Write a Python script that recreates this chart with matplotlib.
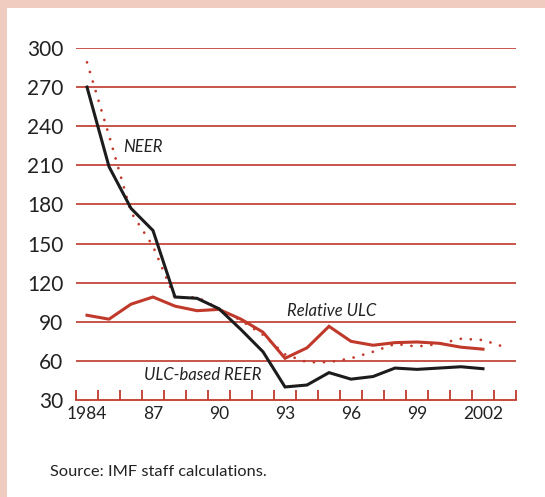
import matplotlib
matplotlib.use("Agg")
import matplotlib.pyplot as plt
from matplotlib.patches import Rectangle

years = list(range(1984, 2003))
years_neer = list(range(1984, 2004))
reer = [270, 209, 177, 160, 109, 108, 100, 84, 67, 40, 41.5, 51, 46, 48, 54.5, 53.5, 54.5, 55.5, 54]
rel_ulc = [95, 92, 103.5, 109, 102, 98.5, 99.5, 92, 82, 62, 70, 86.5, 75, 72, 74, 74.5, 73.5, 70.5, 69]
neer = [289, 233, 174, 148, 108, 109, 100, 91, 80, 65, 59, 59, 62, 67, 73, 71, 73, 77, 76, 70.5]
yticks = [30, 60, 90, 120, 150, 180, 210, 240, 270, 300]
xlabels = {1984: "1984", 1987: "87", 1990: "90", 1993: "93", 1996: "96", 1999: "99", 2002: "2002"}

RED = "#c0392b"
GRID = "#c4463c"
BLACK = "#1c1c1c"
FONT = ["Lato", "DejaVu Sans"]
plt.rcParams["font.family"] = FONT

fig = plt.figure(figsize=(5.45, 4.97), dpi=100)
fig.patch.set_facecolor("#f0cbbf")
fig.patches.append(Rectangle((7/545, 0), 1 - 7/545, 1 - 8/497, transform=fig.transFigure,
                             facecolor="white", edgecolor="none", zorder=-5))

ax = fig.add_axes([76/545, 97/497, 440/545, 352/497])
ax.set_zorder(2)
ax.set_facecolor("none")
ax.set_xlim(1983.5, 2003.5)
ax.set_ylim(30, 300)

for v in yticks[1:]:
    ax.axhline(v, color=GRID, lw=1.3, zorder=1)

ax.plot(years_neer, neer, color=RED, lw=2.0, linestyle=(0, (0.01, 3.6)),
        dash_capstyle="round", zorder=3, clip_on=False)
ax.plot(years, rel_ulc, color=RED, lw=2.2, zorder=4, solid_joinstyle="miter")
ax.plot(years, reer, color=BLACK, lw=2.2, zorder=5, solid_joinstyle="miter")

for s in ["top", "right", "left"]:
    ax.spines[s].set_visible(False)
ax.spines["bottom"].set_color(RED)
ax.spines["bottom"].set_linewidth(1.3)

# minor ticks at year boundaries
ax.set_xticks([1983.5 + k for k in range(21)], minor=True)
ax.tick_params(axis="x", which="minor", direction="in", length=7, width=1.3, color=RED)
ax.set_xticks(list(xlabels.keys()))
ax.set_xticklabels(list(xlabels.values()), fontsize=12.5, color="#222222")
ax.tick_params(axis="x", which="major", length=0, pad=4)

ax.set_yticks(yticks)
ax.set_yticklabels([str(v) for v in yticks], fontsize=15, color="#222222")
ax.tick_params(axis="y", length=0, pad=9)

ax.text(1986.55, 224, "NEER", style="italic", fontsize=12, color="#222222", ha="center", va="center")
ax.text(1995.1, 98.3, "Relative ULC", style="italic", fontsize=12, color="#222222", ha="center", va="center")
ax.text(1989.27, 49.2, "ULC-based REER", style="italic", fontsize=12, color="#222222", ha="center", va="center")

fig.text(50/545, 1 - 472/497, "Source: IMF staff calculations.", fontsize=11.8, color="#222222",
         ha="left", va="center")

fig.savefig("out.png", dpi=100, facecolor=fig.get_facecolor())
